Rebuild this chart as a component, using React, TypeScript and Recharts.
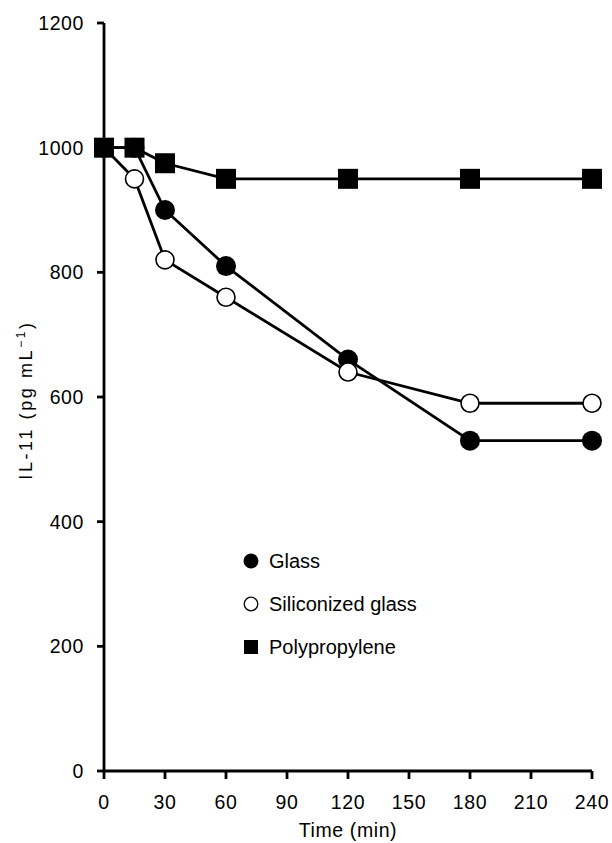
import React from 'react';
import { LineChart, Line, XAxis, YAxis } from 'recharts';

const times = [0, 15, 30, 60, 120, 180, 240];
const glass = [1000, 1000, 900, 810, 660, 530, 530];
const siliconized = [1000, 950, 820, 760, 640, 590, 590];
const polypropylene = [1000, 1000, 975, 950, 950, 950, 950];
const xTicks = [0, 30, 60, 90, 120, 150, 180, 210, 240];
const yTicks = [0, 200, 400, 600, 800, 1000, 1200];
const seriesNames = ['Glass', 'Siliconized glass', 'Polypropylene'];

const data = times.map((t, i) => ({
  t,
  glass: glass[i],
  siliconized: siliconized[i],
  polypropylene: polypropylene[i],
}));

const FONT = 'Liberation Sans, Arial, sans-serif';

const FilledDot = (p: any) => <circle key={p.index} cx={p.cx} cy={p.cy} r={10} fill="#000" />;
const OpenDot = (p: any) => (
  <circle key={p.index} cx={p.cx} cy={p.cy} r={9} fill="#fff" stroke="#000" strokeWidth={1.6} />
);
const SquareDot = (p: any) => (
  <rect key={p.index} x={p.cx - 10} y={p.cy - 10} width={20} height={20} fill="#000" />
);

const YLabel = () => (
  <text
    x={32}
    y={400}
    transform="rotate(-90 32 400)"
    textAnchor="middle"
    fill="#000"
    fontSize={18}
    fontFamily={FONT}
    letterSpacing={2.6}
  >
    IL-11 (pg mL
    <tspan dy={-7} fontSize={12}>{'\u22121'}</tspan>
    <tspan dy={7}>)</tspan>
  </text>
);

const LegendOverlay = () => {
  const rows = [0, 1, 2];
  return (
    <svg
      width={612}
      height={843}
      style={{ position: 'absolute', left: 0, top: 0, pointerEvents: 'none' }}
    >
      {rows.map((i) => {
        const cy = 561 + i * 43;
        return (
          <g key={i}>
            {i === 0 && <circle cx={251} cy={cy} r={7.5} fill="#000" />}
            {i === 1 && <circle cx={251} cy={cy} r={6.8} fill="#fff" stroke="#000" strokeWidth={1.3} />}
            {i === 2 && <rect x={244} y={cy - 7} width={14} height={14} fill="#000" />}
            <text x={269} y={cy + 7} fill="#000" fontSize={20} fontFamily={FONT}>
              {seriesNames[i]}
            </text>
          </g>
        );
      })}
    </svg>
  );
};

export default function App() {
  return (
    <div style={{ position: 'absolute', left: 0, top: 0, width: 612, height: 843, background: '#fff' }}>
      <LineChart width={612} height={843} data={data} margin={{ top: 23, right: 20, bottom: 0, left: 0 }}>
        <XAxis
          dataKey="t"
          type="number"
          domain={[0, 240]}
          ticks={xTicks}
          interval={0}
          height={72}
          stroke="#000"
          strokeWidth={2.8}
          tickSize={8}
          tickMargin={16}
          tick={{ fill: '#000', fontSize: 19.5, fontFamily: FONT, letterSpacing: 0.6 }}
          label={{
            value: 'Time (min)',
            position: 'insideBottom',
            offset: 6,
            fill: '#000',
            fontSize: 19.5,
            fontFamily: FONT,
            letterSpacing: 0.6,
          }}
        />
        <YAxis
          type="number"
          domain={[0, 1200]}
          ticks={yTicks}
          interval={0}
          width={104}
          stroke="#000"
          strokeWidth={2.8}
          tickSize={7}
          tickMargin={13}
          tick={{ fill: '#000', fontSize: 19.5, fontFamily: FONT, letterSpacing: 0.6 }}
          label={{ content: <YLabel /> }}
        />
        <Line dataKey="glass" stroke="#000" strokeWidth={2.8} dot={FilledDot} isAnimationActive={false} />
        <Line dataKey="siliconized" stroke="#000" strokeWidth={2.8} dot={OpenDot} isAnimationActive={false} />
        <Line dataKey="polypropylene" stroke="#000" strokeWidth={2.8} dot={SquareDot} isAnimationActive={false} />
      </LineChart>
      <LegendOverlay />
    </div>
  );
}
